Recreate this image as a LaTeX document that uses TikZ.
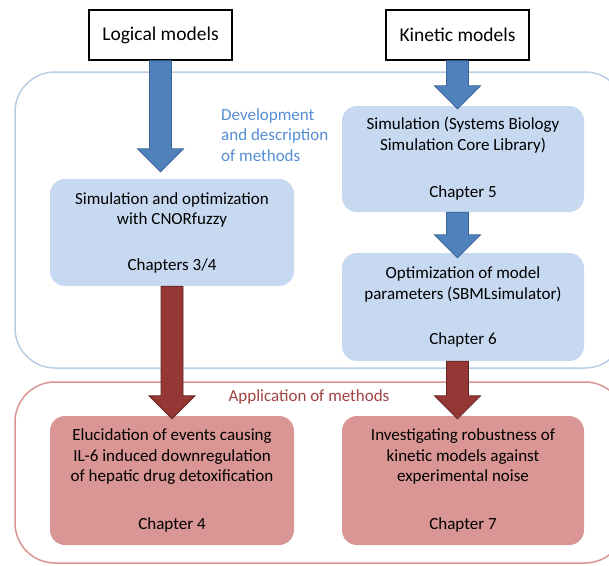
\documentclass[tikz,border=0pt]{standalone}
\usepackage{fontspec}
\setmainfont{Carlito}
\usetikzlibrary{calc}
\definecolor{bluebox}{HTML}{C6D9F1}
\definecolor{bluearr}{HTML}{4F81BD}
\definecolor{bluearredge}{HTML}{3A6594}
\definecolor{bluecont}{HTML}{B9CDE5}
\definecolor{bluetext}{HTML}{558ED5}
\definecolor{redbox}{HTML}{D99694}
\definecolor{redarr}{HTML}{953735}
\definecolor{redarredge}{HTML}{632523}
\definecolor{redtext}{HTML}{A04341}
\newcommand{\blockarr}[3]{%
  \path let \p1=#1, \p2=#2 in [#3]
    (\x1-11pt,\y1) -- (\x1+11pt,\y1) -- (\x1+11pt,\y2+23pt) -- (\x1+23pt,\y2+23pt)
    -- (\x1,\y2) -- (\x1-23pt,\y2+23pt) -- (\x1-11pt,\y2+23pt) -- cycle;}
\tikzset{
  header/.style={draw=black, line width=1.3pt, fill=white, minimum width=143pt, minimum height=50pt, inner sep=0pt, font=\fontsize{19.5}{23}\selectfont},
  bbox/.style={fill=bluebox, rounded corners=15pt, inner sep=0pt, align=center, font=\fontsize{17}{20.5}\selectfont},
  rbox/.style={fill=redbox, rounded corners=15pt, inner sep=0pt, align=center, font=\fontsize{17}{20.5}\selectfont},
  barrow/.style={fill=bluearr, draw=bluearredge, line width=0.8pt},
  rarrow/.style={fill=redarr, draw=redarredge, line width=0.8pt},
  lbl/.style={font=\fontsize{17}{20.5}\selectfont},
}
\begin{document}
\begin{tikzpicture}[x=1pt,y=-1pt]
\useasboundingbox (0,0) rectangle (609,565);
\clip (0,0) rectangle (609,565);
\fill[white] (0,0) rectangle (609,565);
% containers
\draw[bluecont, line width=1.5pt, rounded corners=40pt] (15,72) rectangle (625,368);
\draw[redbox, line width=1.5pt, rounded corners=40pt] (15,382) rectangle (625,563);
% headers
\node[header] (logical) at (160.5,35) {Logical models};
\node[header] (kinetic) at (457.5,35) {Kinetic models};
% blue boxes
\node[bbox, minimum width=244pt, minimum height=107pt] (simopt) at (172,232.5)
  {Simulation and optimization\\with CNORfuzzy\\[25pt]Chapters 3/4};
\node[bbox, minimum width=242pt, minimum height=106pt] (simcore) at (463,159)
  {Simulation (Systems Biology\\Simulation Core Library)\\[27pt]Chapter 5};
\node[bbox, minimum width=242pt, minimum height=108pt] (opt) at (463,307)
  {Optimization of model\\parameters (SBMLsimulator)\\[25pt]Chapter 6};
% red boxes
\node[rbox, minimum width=244pt, minimum height=129pt] (eluc) at (172,480.5)
  {Elucidation of events causing\\IL-6 induced downregulation\\of hepatic drug detoxification\\[27pt]Chapter 4};
\node[rbox, minimum width=242pt, minimum height=129pt] (invest) at (463,480.5)
  {Investigating robustness of\\kinetic models against\\experimental noise\\[27pt]Chapter 7};
% labels
\node[lbl, text=bluetext, align=left, anchor=north west, inner sep=0pt] (devlabel) at (221,108)
  {Development\\and description\\of methods};
\node[lbl, text=redtext, inner sep=0pt] (applabel) at (309,397) {Application of methods};
% arrows
\blockarr{(logical.south)}{($(simopt.north)+(0,-7)$)}{barrow}
\blockarr{(kinetic.south)}{($(simcore.north)+(0,3)$)}{barrow}
\blockarr{($(simcore.south -| kinetic.south)$)}{($(opt.north)+(0,5)$)}{barrow}
\blockarr{(simopt.south)}{($(eluc.north)+(0,3)$)}{rarrow}
\blockarr{($(opt.south -| kinetic.south)$)}{($(invest.north)+(0,3)$)}{rarrow}
\end{tikzpicture}
\end{document}
